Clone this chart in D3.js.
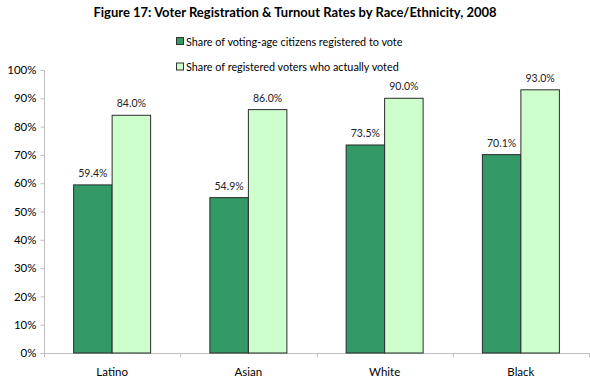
<!DOCTYPE html>
<html><head><meta charset="utf-8">
<script src="https://cdn.jsdelivr.net/npm/d3@7"></script>
<style>body{margin:0;background:#fff}svg{display:block}text{font-family:Lato,"Open Sans",sans-serif}</style>
</head><body><svg id="c" width="590" height="381"></svg>
<script>
const categories = ["Latino", "Asian", "White", "Black"];
const registered = [59.4, 54.9, 73.5, 70.1];
const voted = [84.0, 86.0, 90.0, 93.0];
const seriesNames = ["Share of voting-age citizens registered to vote", "Share of registered voters who actually voted"];
const yTicks = [0, 10, 20, 30, 40, 50, 60, 70, 80, 90, 100];
const title = "Figure 17: Voter Registration & Turnout Rates by Race/Ethnicity, 2008";

const colors = ["#339966", "#ccffcc"];
const svg = d3.select("#c");
const mLeft = 44, mRight = 589, mTop = 70, mBottom = 353;

const x = d3.scaleBand().domain(categories).range([mLeft, mRight]).paddingInner(0).paddingOuter(0);
const x1 = d3.scaleBand().domain([0, 1]).range([0, 77]);
const y = d3.scaleLinear().domain([0, 100]).range([mBottom, mTop]);

svg.append("text").attr("x", 295).attr("y", 17).attr("text-anchor", "middle")
  .style("font-weight", "bold").style("font-size", "13px").attr("fill", "#000").text(title);

// legend
seriesNames.forEach((s, i) => {
  const ly = 42 + i * 25.5;
  svg.append("rect").attr("x", 176.5).attr("y", ly - 4.5).attr("width", 7).attr("height", 7)
    .attr("fill", colors[i]).attr("stroke", "#333").attr("stroke-width", 1);
  svg.append("text").attr("x", 186).attr("y", ly).attr("dy", "0.35em")
    .style("font-size", "10.8px").attr("fill", "#000").text(s);
});

// y axis
const yAxis = d3.axisLeft(y).tickValues(yTicks).tickFormat(d => d + "%").tickSize(4).tickPadding(4);
const gy = svg.append("g").attr("transform", `translate(${mLeft + 0.5},0)`).call(yAxis);
gy.select(".domain").attr("stroke", "#bfbfbf").attr("d", `M0,${mTop}V${mBottom}`);
gy.selectAll(".tick line").attr("stroke", "#bfbfbf");
gy.selectAll(".tick text").style("font-size", "11.5px").attr("fill", "#000").style("font-family", "Lato,sans-serif");

// x axis
const gx = svg.append("g").attr("transform", `translate(0,${mBottom + 0.5})`)
  .call(d3.axisBottom(x).tickSize(0).tickPadding(14));
gx.select(".domain").attr("stroke", "#bfbfbf").attr("d", `M${mLeft},0H${mRight}`);
gx.selectAll(".tick text").style("font-size", "11.5px").attr("fill", "#000").style("font-family", "Lato,sans-serif");
// category separator ticks
categories.concat([null]).forEach((c, i) => {
  const tx = Math.round(mLeft + i * x.bandwidth()) + 0.5;
  svg.append("line").attr("x1", tx).attr("x2", tx).attr("y1", mBottom).attr("y2", mBottom + 4).attr("stroke", "#bfbfbf");
});

// bars
const data = categories.map((c, i) => ({c, vals: [registered[i], voted[i]]}));
const groups = svg.append("g").selectAll("g").data(data).join("g")
  .attr("transform", d => `translate(${x(d.c) + x.bandwidth() / 2 - 38.5},0)`);
groups.selectAll("rect").data(d => d.vals.map((v, i) => ({v, i}))).join("rect")
  .attr("x", d => x1(d.i)).attr("width", x1.bandwidth())
  .attr("y", d => y(d.v)).attr("height", d => y(0) - y(d.v))
  .attr("fill", d => colors[d.i]).attr("stroke", "#2b2b2b").attr("stroke-width", 1);
groups.selectAll("text").data(d => d.vals.map((v, i) => ({v, i}))).join("text")
  .attr("x", d => x1(d.i) + x1.bandwidth() / 2).attr("y", d => y(d.v) - 8)
  .attr("text-anchor", "middle").style("font-size", "10.5px").attr("fill", "#222")
  .text(d => d.v.toFixed(1) + "%");
</script></body></html>
